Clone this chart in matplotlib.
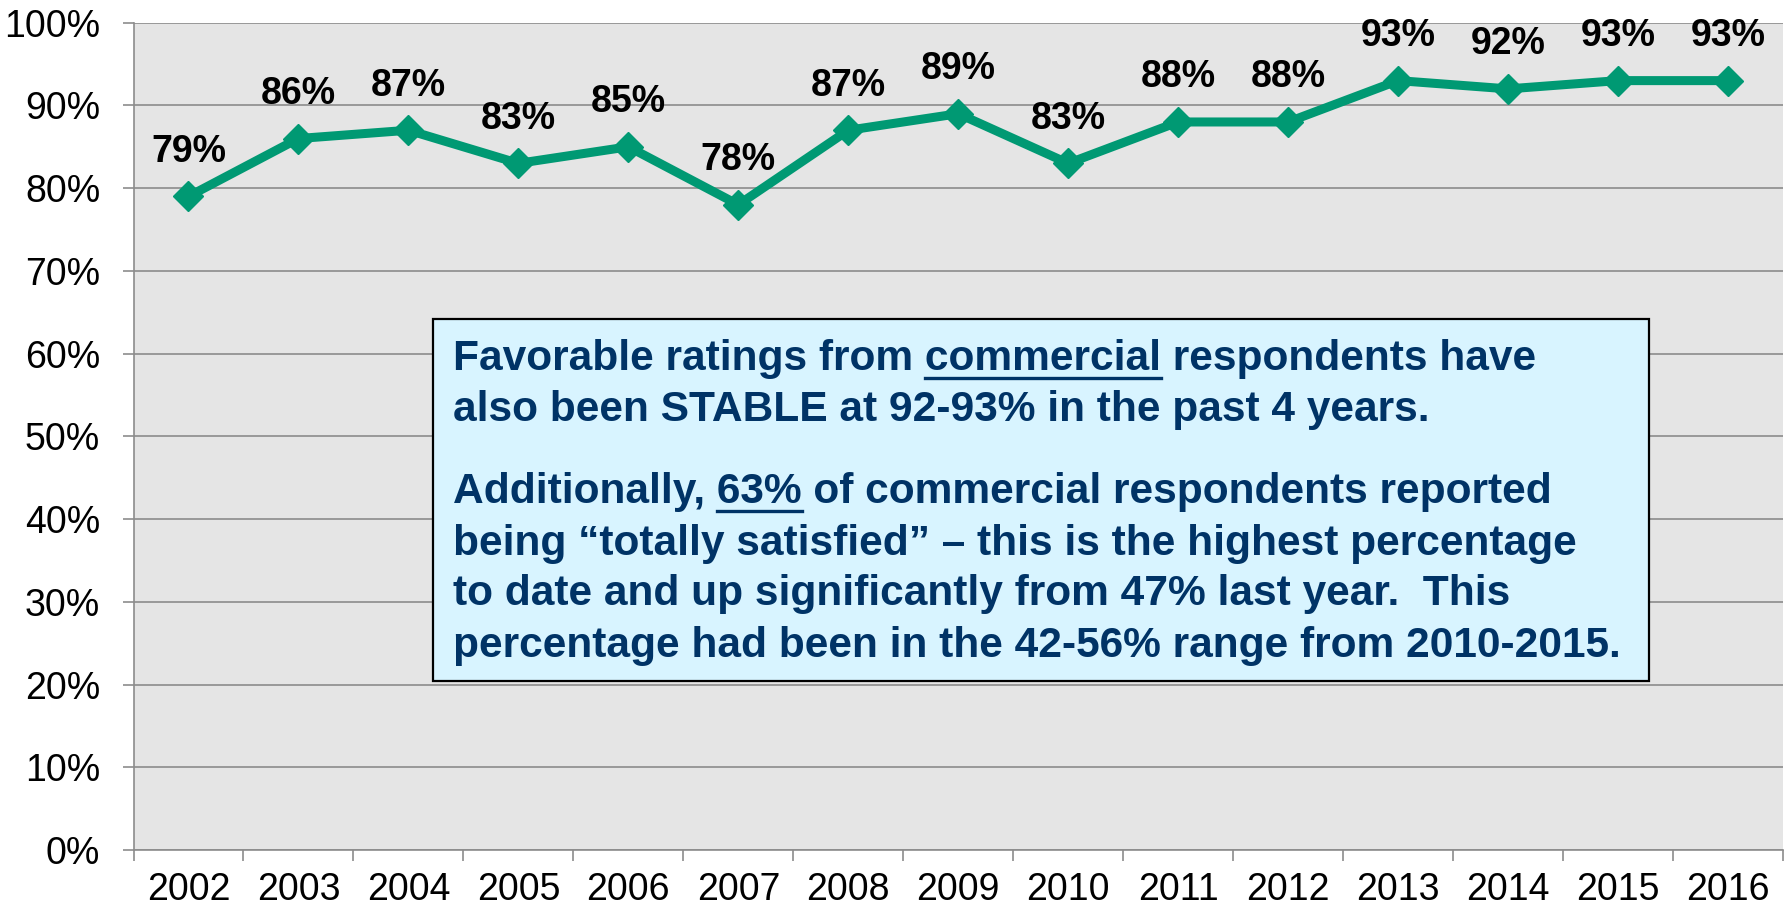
import numpy as np
import matplotlib.pyplot as plt
from matplotlib.patches import Rectangle
from matplotlib.lines import Line2D

plt.rcParams['font.family'] = ['Liberation Sans', 'DejaVu Sans']

years = ['2002', '2003', '2004', '2005', '2006', '2007', '2008', '2009',
         '2010', '2011', '2012', '2013', '2014', '2015', '2016']
favorable = [79, 86, 87, 83, 85, 78, 87, 89, 83, 88, 88, 93, 92, 93, 93]
y_ticks = [0, 10, 20, 30, 40, 50, 60, 70, 80, 90, 100]

# note lines: (text, underlined word or None)
note_lines = [
    ("Favorable ratings from commercial respondents have", "commercial"),
    ("also been STABLE at 92-93% in the past 4 years.", None),
    ("Additionally, 63% of commercial respondents reported", "63%"),
    ("being \u201ctotally satisfied\u201d \u2013 this is the highest percentage", None),
    ("to date and up significantly from 47% last year.  This", None),
    ("percentage had been in the 42-56% range from 2010-2015.", None),
]
note_baselines = [370, 421.5, 503.5, 555, 605.5, 656.5]

W, H = 1790, 910
green = '#009973'
grid_gray = '#8c8c8c'
navy = '#003366'


def fx(px):
    return px / W


def fy(py):
    return 1 - py / H


fig = plt.figure(figsize=(W / 100, H / 100), dpi=100)
ax = fig.add_axes([fx(133.5), fy(850), (1783 - 133.5) / W, (850 - 22.7) / H])
ax.set_facecolor('#e5e5e5')

x = np.arange(len(years))
ax.plot(x, favorable, color=green, linewidth=6.5, marker='D',
        markersize=15.5, zorder=3, solid_joinstyle='miter')

for i, v in enumerate(favorable):
    ax.annotate(f"{v}%", (i, v), xytext=(0, 25), textcoords='offset points',
                ha='center', va='baseline', fontsize=27, fontweight='bold',
                color='black', zorder=4)

ax.set_xlim(-0.5, len(years) - 0.5)
ax.set_ylim(0, 100)
ax.set_xticks(x)
ax.set_xticklabels(years)
ax.set_xticks(np.arange(-0.5, len(years), 1), minor=True)
ax.tick_params(axis='x', which='major', length=0, pad=15.5, labelsize=27)
ax.tick_params(axis='x', which='minor', length=8, width=1.2, color=grid_gray)
ax.set_yticks(y_ticks)
ax.set_yticklabels([f"{t}%" for t in y_ticks])
ax.tick_params(axis='y', length=8, width=1.2, color=grid_gray, pad=16,
               labelsize=27)

ax.grid(axis='y', color=grid_gray, linewidth=1.2)
ax.set_axisbelow(True)
for side in ['top', 'right']:
    ax.spines[side].set_visible(False)
for side in ['left', 'bottom']:
    ax.spines[side].set_color(grid_gray)
    ax.spines[side].set_linewidth(1.2)

# callout box
box_l, box_t, box_r, box_b = 433, 319, 1649, 681
fig.add_artist(Rectangle((fx(box_l), fy(box_b)), (box_r - box_l) / W,
                         (box_b - box_t) / H, transform=fig.transFigure,
                         facecolor='#d8f4ff', edgecolor='black',
                         linewidth=1.6, zorder=5))

renderer = fig.canvas.get_renderer()
text_x = 453
style = dict(fontsize=30.6, fontweight='bold', color=navy, ha='left',
             va='baseline', zorder=6)
for (line, word), base in zip(note_lines, note_baselines):
    fig.text(fx(text_x), fy(base), line, **style)
    if word:
        head = line[:line.index(word) + len(word)]
        t1 = fig.text(fx(text_x), fy(base), head, **style)
        t2 = fig.text(fx(text_x), fy(base), word, **style)
        x_end = t1.get_window_extent(renderer).x1
        w = t2.get_window_extent(renderer).width
        t1.remove()
        t2.remove()
        fig.add_artist(Line2D([(x_end - w) / W, x_end / W],
                              [fy(base + 7.5), fy(base + 7.5)],
                              transform=fig.transFigure, color=navy,
                              linewidth=2.4, zorder=6))

fig.savefig('out.png', dpi=100)
